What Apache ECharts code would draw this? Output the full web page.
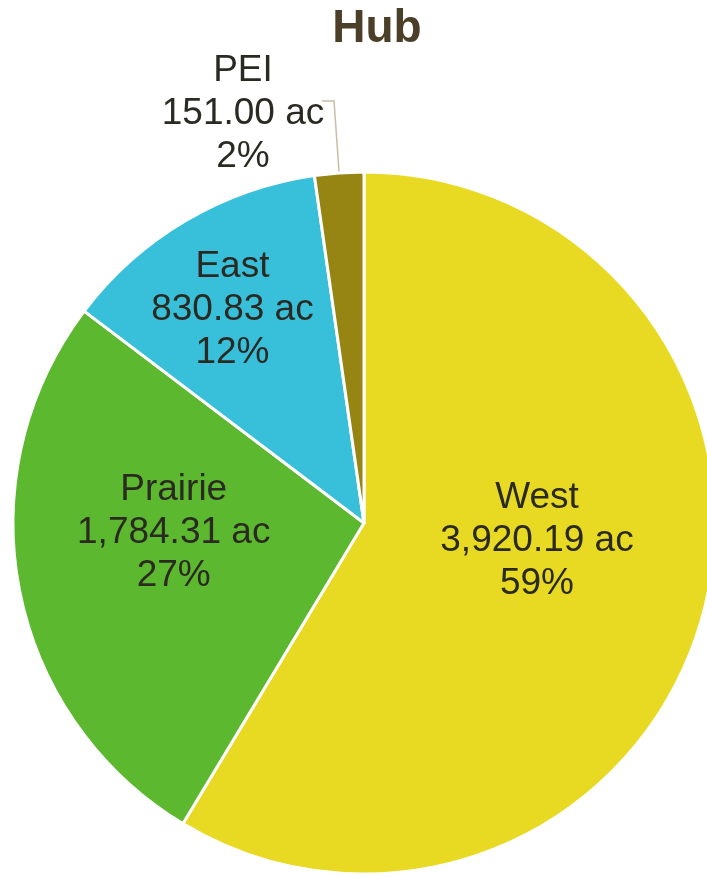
<!DOCTYPE html>
<html>
<head>
<meta charset="utf-8">
<script src="https://cdn.jsdelivr.net/npm/echarts@6/dist/echarts.min.js"></script>
<style>html,body{margin:0;padding:0;background:#fff;}#c{width:707px;height:877px;}</style>
</head>
<body>
<div id="c"></div>
<script>
var categories = ['West', 'Prairie', 'East', 'PEI'];
var values = [3920.19, 1784.31, 830.83, 151.00];
var colors = ['#e8d922', '#5cb82e', '#38bfda', '#968512'];
var unit = 'ac';
var titleText = 'Hub';

var insideOffsets = {West: [1, -30], Prairie: [-15, -24], East: [-41, -59]};
var FONT = 'Liberation Sans, Arial, sans-serif';

function fmt(p) {
  var v = p.value.toLocaleString('en-US', {minimumFractionDigits: 2, maximumFractionDigits: 2});
  return p.name + '\n' + v + ' ' + unit + '\n' + Math.round(p.percent) + '%';
}

var data = categories.map(function (c, i) {
  var d = {name: c, value: values[i], itemStyle: {color: colors[i]}};
  if (insideOffsets[c]) {
    d.label = {position: 'inside', offset: insideOffsets[c]};
    d.labelLine = {show: false};
  } else {
    d.label = {
      position: 'outside',
      alignTo: 'none',
      distanceToLabelLine: -3,
      padding: [26, 0, 0, 0],
      formatter: function (p) {
        var v = p.value.toLocaleString('en-US', {minimumFractionDigits: 2, maximumFractionDigits: 2});
        return '{c|' + p.name + '}\n{c|' + v + ' ' + unit + '}\n{c|' + Math.round(p.percent) + '%}';
      },
      rich: {c: {width: 164, align: 'center', fontSize: 37, lineHeight: 43, color: '#2b2a22', fontFamily: FONT}}
    };
    d.labelLine = {show: true, length: 72, length2: 12, lineStyle: {color: '#c8bda8', width: 1.5}};
  }
  return d;
});

var chart = echarts.init(document.getElementById('c'));
chart.setOption({
  animation: false,
  title: {
    text: titleText,
    left: 372, top: 1, textAlign: 'center',
    textStyle: {fontSize: 46, fontWeight: 'bold', color: '#4b3f28', fontFamily: FONT}
  },
  series: [{
    type: 'pie',
    center: [364, 523],
    radius: [0, 351],
    startAngle: 90,
    clockwise: true,
    avoidLabelOverlap: false,
    itemStyle: {borderColor: '#ffffff', borderWidth: 3},
    label: {
      formatter: fmt,
      fontSize: 37,
      lineHeight: 43,
      color: '#2b2a22',
      fontFamily: FONT
    },
    emphasis: {disabled: true},
    data: data
  }]
});
</script>
</body>
</html>
